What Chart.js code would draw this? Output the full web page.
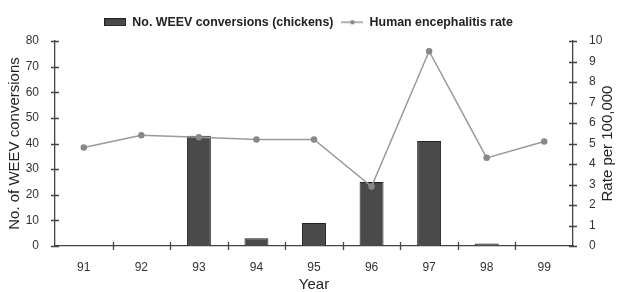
<!DOCTYPE html>
<html><head><meta charset="utf-8">
<script src="https://cdn.jsdelivr.net/npm/chart.js@4/dist/chart.umd.min.js"></script>
<style>html,body{margin:0;padding:0;background:#fff}#wrap{width:617px;height:292px}</style>
</head><body><div id="wrap"><canvas id="c" width="617" height="292"></canvas></div>
<script>
const years = ['91','92','93','94','95','96','97','98','99'];
const weevConversions = [0, 0, 43, 3, 9, 25, 41, 1, 0];
const encephalitisRate = [4.8, 5.4, 5.3, 5.2, 5.2, 2.9, 9.5, 4.3, 5.1];
const leftTicks = [0,10,20,30,40,50,60,70,80];
const rightTicks = [0,1,2,3,4,5,6,7,8,9,10];
const rightTitle = 'Rate per 100,000';

const FONT = "'Liberation Sans', Arial, sans-serif";
const AXIS = '#444';

function barIcon(){
  const c=document.createElement('canvas');c.width=22;c.height=8;
  const g=c.getContext('2d');g.fillStyle='#4a4a4a';g.fillRect(0.5,0.5,21,7);
  g.strokeStyle='#222';g.lineWidth=1;g.strokeRect(0.5,0.5,21,7);return c;
}
function lineIcon(){
  const c=document.createElement('canvas');c.width=22;c.height=8;
  const g=c.getContext('2d');g.strokeStyle='#999';g.lineWidth=1.5;
  g.beginPath();g.moveTo(0,4);g.lineTo(22,4);g.stroke();
  g.fillStyle='#888';g.beginPath();g.arc(11,4,2.2,0,Math.PI*2);g.fill();return c;
}

const legendSpace = {
  id:'legendSpace',
  beforeInit(chart){
    const lg = chart.legend;
    if(!lg) return;
    const orig = lg.fit;
    lg.fit = function(){ orig.call(this); this.height = 33; };
  }
};

const crossTicks = {
  id:'crossTicks',
  afterDraw(chart){
    const ctx=chart.ctx; ctx.save(); ctx.strokeStyle=AXIS; ctx.lineWidth=1.3;
    const yl=chart.scales.y, yr=chart.scales.y2, x=chart.scales.x;
    ctx.beginPath();
    yl.ticks.forEach((t,i)=>{const p=Math.round(yl.getPixelForTick(i))+0.5;ctx.moveTo(yl.right-4,p);ctx.lineTo(yl.right+4,p);});
    yr.ticks.forEach((t,i)=>{const p=Math.round(yr.getPixelForTick(i))+0.5;ctx.moveTo(yr.left-4,p);ctx.lineTo(yr.left+4,p);});
    for(let i=0;i<years.length-1;i++){
      const p=Math.round((x.getPixelForValue(i)+x.getPixelForValue(i+1))/2)+0.5;
      ctx.moveTo(p,x.top-4);ctx.lineTo(p,x.top+4);
    }
    ctx.stroke();
    const ca=chart.chartArea;
    ctx.fillStyle='#222'; ctx.font='15px '+FONT; ctx.textAlign='center'; ctx.textBaseline='middle';
    ctx.translate(yr.right-9,(ca.top+ca.bottom)/2); ctx.rotate(-Math.PI/2);
    ctx.fillText(rightTitle,0,0);
    ctx.restore();
  }
};

new Chart(document.getElementById('c'),{
  data:{labels:years,datasets:[
    {type:'line',label:'Human encephalitis rate',data:encephalitisRate,yAxisID:'y2',
     borderColor:'#9a9a9a',borderWidth:1.5,pointBackgroundColor:'#888',pointBorderColor:'#888',
     pointRadius:2.5,tension:0,order:0},
    {type:'bar',label:'No. WEEV conversions (chickens)',data:weevConversions,yAxisID:'y',
     backgroundColor:'#4a4a4a',borderColor:'#222',borderWidth:1,
     categoryPercentage:0.8,barPercentage:0.52,order:1}
  ]},
  options:{
    responsive:false,animation:false,
    layout:{padding:{top:8,right:0,left:0,bottom:0}},
    plugins:{
      tooltip:{enabled:false},
      legend:{position:'top',
        labels:{font:{family:FONT,size:12.4,weight:'bold'},color:'#222',usePointStyle:true,pointStyleWidth:22,padding:8,
          generateLabels(chart){
            return [
              {text:'No. WEEV conversions (chickens)',pointStyle:barIcon(),datasetIndex:1,fontColor:'#222',lineWidth:0,strokeStyle:'transparent',fillStyle:'transparent'},
              {text:'Human encephalitis rate',pointStyle:lineIcon(),datasetIndex:0,fontColor:'#222',lineWidth:0,strokeStyle:'transparent',fillStyle:'transparent'}
            ];
          }}}
    },
    scales:{
      x:{offset:true,grid:{display:false},border:{display:true,color:AXIS,width:1.3},
         ticks:{font:{family:FONT,size:12},color:'#333',padding:6},
         title:{display:true,text:'Year',font:{family:FONT,size:15},color:'#222',padding:{top:0,bottom:-2}},
         afterFit(s){s.height=46;}},
      y:{position:'left',min:0,max:80,afterBuildTicks(s){s.ticks=leftTicks.map(v=>({value:v}));},
         grid:{display:false},border:{display:true,color:AXIS,width:1.3},
         ticks:{font:{family:FONT,size:12},color:'#333',padding:8},
         title:{display:true,text:'No. of WEEV conversions',font:{family:FONT,size:15},color:'#222',padding:{top:6,bottom:0}},
         afterFit(s){s.width=55;}},
      y2:{position:'right',min:0,max:10,afterBuildTicks(s){s.ticks=rightTicks.map(v=>({value:v}));},
         grid:{display:false},border:{display:true,color:AXIS,width:1.3},
         ticks:{font:{family:FONT,size:12},color:'#333',padding:8},
         title:{display:false},
         afterFit(s){s.width=44;}}
    }
  },
  plugins:[legendSpace,crossTicks]
});
</script></body></html>
